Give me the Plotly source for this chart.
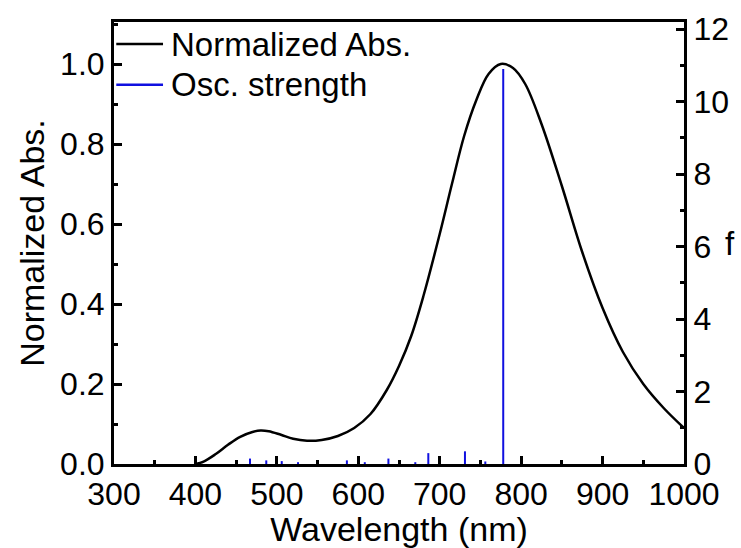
import plotly.graph_objects as go

# Normalized absorption spectrum
wl = [400, 410, 425, 440, 455, 470, 480, 490, 505, 520, 537, 555, 575, 595, 615, 635,
      650, 665, 680, 700, 715, 730, 745, 760, 775, 790, 805, 825, 850, 875, 900, 925,
      950, 975, 1000]
absn = [0.0, 0.006, 0.025, 0.048, 0.068, 0.08, 0.084, 0.082, 0.073, 0.063, 0.058, 0.06,
        0.07, 0.09, 0.125, 0.185, 0.245, 0.32, 0.42, 0.575, 0.7, 0.82, 0.91, 0.975, 1.0,
        0.99, 0.95, 0.85, 0.695, 0.53, 0.39, 0.28, 0.2, 0.14, 0.09]

# Oscillator strengths (stick spectrum)
osc_wl = [451, 467, 487, 506, 526, 586, 608, 637, 670, 686, 731, 756, 778]
osc_f = [0.1, 0.15, 0.1, 0.08, 0.05, 0.1, 0.05, 0.15, 0.05, 0.3, 0.35, 0.07, 10.9]

legend_names = ["Normalized Abs.", "Osc. strength"]
x_title = "Wavelength (nm)"
y_title = "Normalized Abs."
y2_title = "f"

FONT = "Liberation Sans, Arial, sans-serif"
BLUE = "#1010e0"

sx, sy = [], []
for w, f in zip(osc_wl, osc_f):
    sx += [w, w, None]
    sy += [0, f, None]

fig = go.Figure()
fig.add_trace(go.Scatter(x=wl, y=absn, mode="lines", line=dict(color="black", width=2.5, shape="spline"),
                         name=legend_names[0], showlegend=False))
fig.add_trace(go.Scatter(x=sx, y=sy, mode="lines", line=dict(color=BLUE, width=2),
                         name=legend_names[1], yaxis="y2", showlegend=False))

# manual legend
for i, (name, col) in enumerate(zip(legend_names, ["black", BLUE])):
    yy = 0.95 - i * 0.092
    fig.add_shape(type="line", xref="paper", yref="paper", x0=0.004, x1=0.086, y0=yy, y1=yy,
                  line=dict(color=col, width=2.5))
    fig.add_annotation(xref="paper", yref="paper", x=0.097, y=yy, text=name, showarrow=False,
                       xanchor="left", yanchor="middle", font=dict(family=FONT, size=33, color="black"))

# right axis title (horizontal)
fig.add_annotation(xref="paper", yref="paper", x=1.08, y=0.5, text=y2_title, showarrow=False,
                   xanchor="center", yanchor="middle", font=dict(family=FONT, size=33, color="black"))

axis_common = dict(showline=True, linecolor="black", linewidth=3, ticks="inside", ticklen=8,
                   tickwidth=2.5, tickcolor="black", showgrid=False, zeroline=False,
                   tickfont=dict(family=FONT, size=32, color="black"))

fig.update_layout(
    width=741, height=548,
    margin=dict(l=114, r=57, t=17, b=76),
    plot_bgcolor="white", paper_bgcolor="white",
    xaxis=dict(range=[300, 1000], dtick=100, tick0=300, mirror=True,
               title=dict(text=x_title, font=dict(family=FONT, size=34, color="black"), standoff=0),
               minor=dict(ticks="inside", ticklen=4, tickwidth=2.5, tickcolor="black", dtick=50, tick0=300),
               ticklabelstandoff=0,
               **axis_common),
    yaxis=dict(range=[0, 1.105], dtick=0.2, tickformat=".1f",
               title=dict(text=y_title, font=dict(family=FONT, size=34, color="black"), standoff=6),
               minor=dict(ticks="inside", ticklen=4, tickwidth=2.5, tickcolor="black", dtick=0.1),
               ticklabelstandoff=0,
               **axis_common),
    yaxis2=dict(range=[0, 12.2], dtick=2, overlaying="y", side="right",
                minor=dict(ticks="inside", ticklen=4, tickwidth=2.5, tickcolor="black", dtick=1),
                ticklabelstandoff=0,
                **axis_common),
)

fig.write_html("out.html")
